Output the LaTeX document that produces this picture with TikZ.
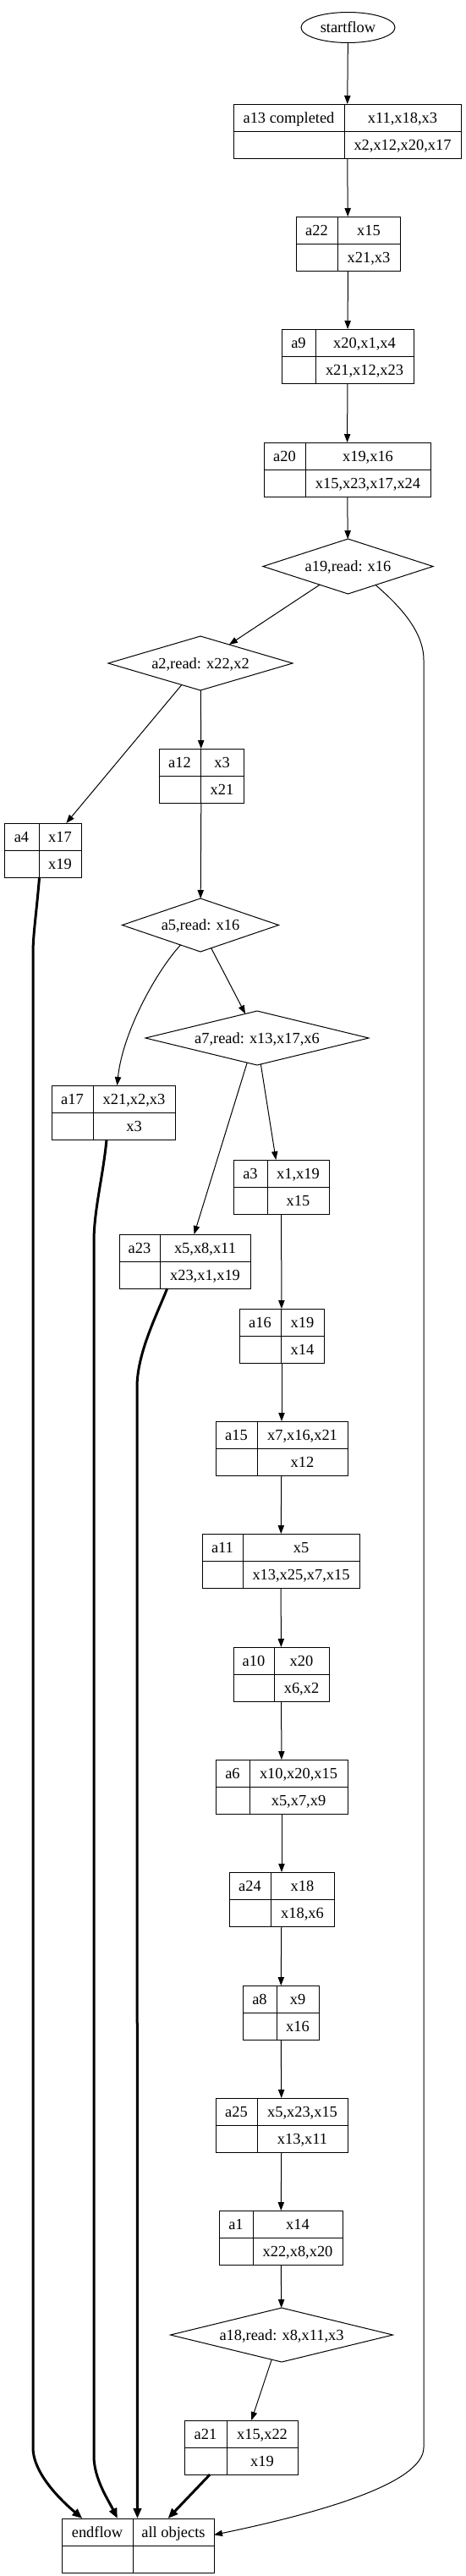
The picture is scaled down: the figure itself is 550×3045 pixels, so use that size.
\documentclass[tikz,border=0pt]{standalone}
\usepackage{fontspec}
\setmainfont{Liberation Serif}
\usetikzlibrary{shapes.geometric,arrows.meta}

\tikzset{
  recbox/.style={draw,line width=0.75pt,inner sep=0pt,outer sep=0pt},
  cell/.style={inner sep=0pt,text height=9.4pt,text depth=0.4pt},
  cond/.style={diamond,draw,line width=0.75pt,inner sep=0pt,outer sep=0pt,shape aspect=4,text height=9.4pt,text depth=0.4pt},
  flow/.style={line width=0.75pt,-{Triangle[length=7.5pt,width=5.5pt]}},
  heavy/.style={line width=2.25pt,-{Triangle[length=9pt,width=7pt]}},
}

% record: name, left, divider, right, top, label, upper, lower
\newcommand{\recnode}[8]{%
  \node[recbox,minimum width={(#4-#2)*0.75pt},minimum height=48pt] (#1) at ({(#2+#4)/2},{#5+32}) {};
  \draw[line width=0.75pt] (#3,#5) -- (#3,#5+64);
  \draw[line width=0.75pt] (#2,#5+32) -- (#4,#5+32);
  \node[cell] at ({(#2+#3)/2},{#5+16}) {#6};
  \node[cell] at ({(#3+#4)/2},{#5+16}) {#7};
  \node[cell] at ({(#3+#4)/2},{#5+48}) {#8};
}

\begin{document}
\begin{tikzpicture}[x=0.75pt,y=-0.75pt,font=\fontsize{13.8}{16}\selectfont]
  \useasboundingbox (0,0) rectangle (550,3045);
  % start
  \node[ellipse,draw,line width=0.75pt,inner sep=0pt,minimum width=83.25pt,minimum height=27pt,text height=9.4pt,text depth=0.4pt] (start) at (411.5,32.5) {startflow};
  % records
  \recnode{a13}{276}{407}{545}{123}{a13 completed}{x11,x18,x3}{x2,x12,x20,x17}
  \recnode{a22}{350}{399}{473}{256}{a22}{x15}{x21,x3}
  \recnode{a9}{333}{373}{489}{389}{a9}{x20,x1,x4}{x21,x12,x23}
  \recnode{a20}{312}{361}{509}{523}{a20}{x19,x16}{x15,x23,x17,x24}
  \recnode{a12}{188}{237}{288}{885}{a12}{x3}{x21}
  \recnode{a4}{5}{46}{96}{973}{a4}{x17}{x19}
  \recnode{a17}{61}{110}{207}{1283}{a17}{x21,x2,x3}{x3}
  \recnode{a3}{276}{316}{389}{1371}{a3}{x1,x19}{x15}
  \recnode{a23}{141}{189}{296}{1459}{a23}{x5,x8,x11}{x23,x1,x19}
  \recnode{a16}{283}{332}{383}{1547}{a16}{x19}{x14}
  \recnode{a15}{255}{304}{411}{1680}{a15}{x7,x16,x21}{x12}
  \recnode{a11}{239}{287}{425}{1813}{a11}{x5}{x13,x25,x7,x15}
  \recnode{a10}{276}{324}{389}{1947}{a10}{x20}{x6,x2}
  \recnode{a6}{255}{295}{411}{2080}{a6}{x10,x20,x15}{x5,x7,x9}
  \recnode{a24}{271}{320}{395}{2213}{a24}{x18}{x18,x6}
  \recnode{a8}{287}{327}{377}{2347}{a8}{x9}{x16}
  \recnode{a25}{255}{304}{411}{2480}{a25}{x5,x23,x15}{x13,x11}
  \recnode{a1}{259}{299}{405}{2613}{a1}{x14}{x22,x8,x20}
  \recnode{a21}{218}{268}{352}{2861}{a21}{x15,x22}{x19}
  \recnode{endflow}{73}{157}{253}{2977}{endflow}{all objects}{}
  % reads
  \node[cond,minimum width=150.75pt,minimum height=48.75pt] (a19) at (411.5,669.5) {a19,read: x16};
  \node[cond,minimum width=163.5pt,minimum height=48pt] (a2) at (237,784) {a2,read: x22,x2};
  \node[cond,minimum width=138.75pt,minimum height=47.25pt] (a5) at (237,1093.5) {a5,read: x16};
  \node[cond,minimum width=198pt,minimum height=48pt] (a7) at (304,1227) {a7,read: x13,x17,x6};
  \node[cond,minimum width=197.25pt,minimum height=48pt] (a18) at (333,2760) {a18,read: x8,x11,x3};
  % straight chain
  \foreach \u/\v in {start/a13,a13/a22,a22/a9,a9/a20,a20/a19,a2/a12,a12/a5,a3/a16,a16/a15,a15/a11,a11/a10,a10/a6,a6/a24,a24/a8,a8/a25,a25/a1,a1/a18}
    \draw[flow] (\u) -- (\v);
  % branches
  \draw[flow] (a19.213) -- (a2.33);
  \draw[flow] (a2.229.8) -- (a4.49.3);
  \draw[flow] (a5.225.6) .. controls (185,1148) and (145,1220) .. (a17.82);
  \draw[flow] (a5.295.4) -- (a7.116.6);
  \draw[flow] (a7.278.6) -- (a3.101.5);
  \draw[flow] (a7.248.8) -- (a23.71.8);
  \draw[flow] (a18.248.2) -- (a21.69.4);
  \draw[flow] (a19.326) .. controls (470,714) and (501,745) .. (501,780) -- (501,2893) .. controls (501,2935) and (380,2970) .. (endflow.8.8);
  % into endflow
  \draw[heavy] (a4.263) .. controls (43,1080) and (39,1105) .. (39,1127) -- (39,2893) .. controls (39,2925) and (75,2958) .. (endflow.154.8);
  \draw[heavy] (a17.256) .. controls (122,1390) and (111,1430) .. (111,1468) -- (111,2903) .. controls (111,2930) and (128,2955) .. (endflow.127.4);
  \draw[heavy] (a23.237.4) .. controls (185,1555) and (162,1600) .. (162,1640) -- (endflow.91.8);
  \draw[heavy] (a21.221.6) -- (endflow.42.4);
\end{tikzpicture}
\end{document}
